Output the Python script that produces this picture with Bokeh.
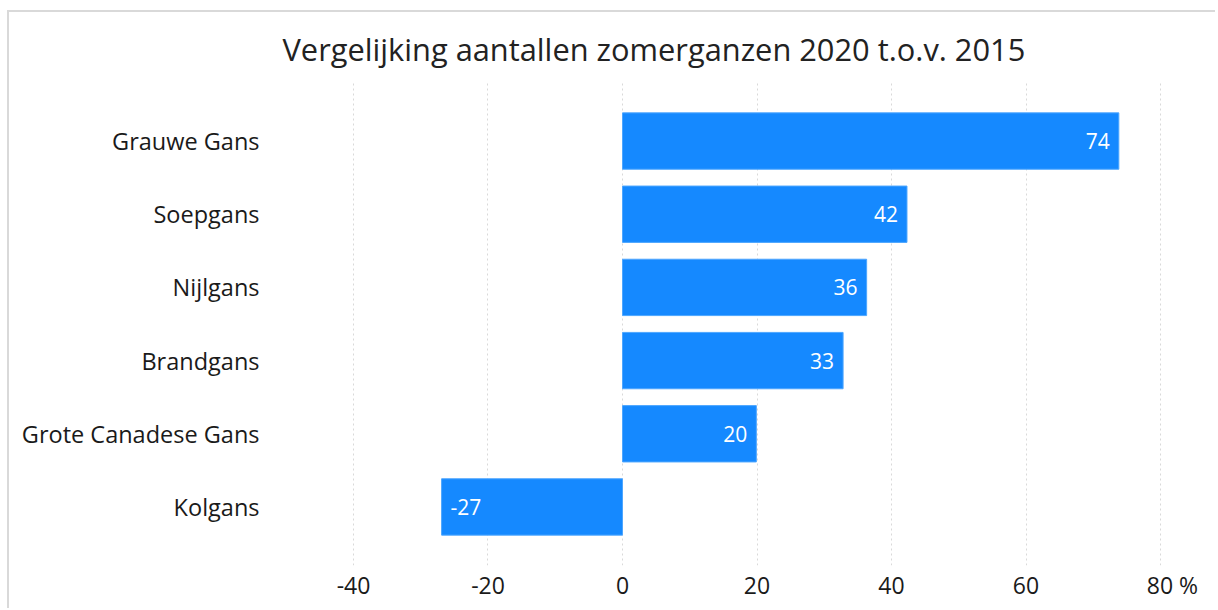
from bokeh.plotting import figure
from bokeh.models import ColumnDataSource, FactorRange, Range1d, FixedTicker
from bokeh.core.properties import value
from bokeh.embed import file_html
from bokeh.resources import INLINE

species = ["Grauwe Gans", "Soepgans", "Nijlgans", "Brandgans", "Grote Canadese Gans", "Kolgans"]
change = [73.8, 42.3, 36.3, 32.8, 19.9, -26.9]
value_labels = ["74", "42", "36", "33", "20", "-27"]
x_ticks = [-40, -20, 0, 20, 40, 60, 80]
x_tick_labels = ["-40", "-20", "0", "20", "40", "60", "\u00a0\u00a0\u00a0\u00a080\u00a0%"]

FONT = "Open Sans"
BAR = "#1589FF"

src = ColumnDataSource(dict(
    species=species,
    change=change,
    lab=value_labels,
    align=["right" if v >= 0 else "left" for v in change],
    xoff=[-9 if v >= 0 else 9 for v in change],
))

p = figure(
    width=1208, height=598,
    y_range=FactorRange(factors=species[::-1], range_padding=0.1),
    x_range=Range1d(-52.34, 85.2),
    output_backend="svg", toolbar_location=None,
    min_border_left=261, min_border_right=22, min_border_top=60, min_border_bottom=45,
)

p.title.text = "Vergelijking aantallen zomerganzen 2020 t.o.v. 2015"
p.title.align = "left"
p.title.offset = 12
p.title.text_font = FONT
p.title.text_font_size = "30.8px"
p.title.text_font_style = "normal"
p.title.text_color = "#222222"
p.title.standoff = 26

p.hbar(y="species", left=0, right="change", height=0.77, source=src,
       fill_color=BAR, line_color="#4da6ff", line_width=1)

p.text(x="change", y="species", text="lab", source=src,
       text_align="align", x_offset="xoff", text_baseline="middle",
       text_color="white", text_font=value(FONT), text_font_size="21px")

p.outline_line_color = None
p.background_fill_color = "white"
p.border_fill_color = "white"

p.ygrid.grid_line_color = None
p.xgrid.ticker = FixedTicker(ticks=x_ticks)
p.xgrid.grid_line_color = "#d9d9d9"
p.xgrid.grid_line_dash = "2 3"
p.xgrid.grid_line_width = 1

p.xaxis.ticker = FixedTicker(ticks=x_ticks)
p.xaxis.major_label_overrides = dict(zip(x_ticks, x_tick_labels))
p.xaxis.axis_line_color = None
p.xaxis.major_tick_line_color = None
p.xaxis.minor_tick_line_color = None
p.xaxis.major_label_standoff = -3
p.xaxis.major_label_text_font = FONT
p.xaxis.major_label_text_font_size = "23px"
p.xaxis.major_label_text_color = "#1a1a1a"

p.yaxis.axis_line_color = None
p.yaxis.major_tick_line_color = None
p.yaxis.minor_tick_line_color = None
p.yaxis.major_label_standoff = 5
p.yaxis.major_label_text_font = FONT
p.yaxis.major_label_text_font_size = "23.5px"
p.yaxis.major_label_text_color = "#1a1a1a"

p.styles = {"margin-left": "7px", "margin-top": "10px",
            "border-left": "2px solid #d9d9d9", "border-top": "2px solid #d9d9d9"}

open("out.html", "w").write(file_html(p, INLINE))
